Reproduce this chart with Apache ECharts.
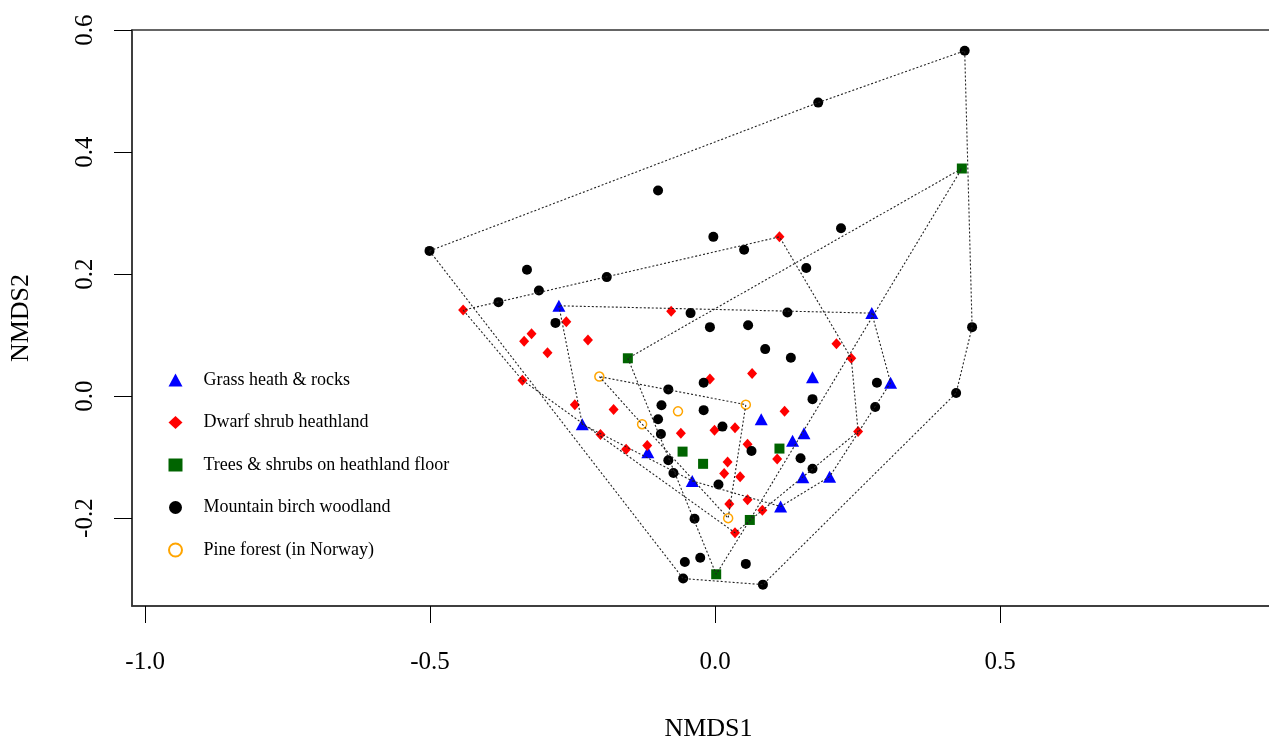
<!DOCTYPE html>
<html>
<head>
<meta charset="utf-8">
<script src="https://cdn.jsdelivr.net/npm/echarts@6/dist/echarts.min.js"></script>
<style>
  html, body { margin: 0; padding: 0; background: #fff; overflow: hidden; }
  #chart { width: 1269px; height: 740px; }
</style>
</head>
<body>
<div id="chart"></div>
<script>
// ---- Data (NMDS1, NMDS2) ----
const groupNames = ['Grass heath & rocks', 'Dwarf shrub heathland', 'Trees & shrubs on heathland floor', 'Mountain birch woodland', 'Pine forest (in Norway)'];

const grassHeath = [[-0.274,0.148],[0.275,0.136],[0.171,0.031],[0.308,0.022],[0.081,-0.038],[-0.233,-0.046],[0.156,-0.061],[0.136,-0.073],[-0.118,-0.092],[0.154,-0.133],[0.201,-0.132],[-0.040,-0.139],[0.115,-0.181]];

const dwarfShrub = [[0.113,0.261],[-0.442,0.141],[-0.077,0.139],[-0.261,0.122],[-0.322,0.102],[-0.335,0.090],[-0.294,0.071],[-0.223,0.092],[0.213,0.086],[0.239,0.062],[-0.338,0.026],[-0.009,0.028],[0.065,0.037],[0.122,-0.025],[-0.246,-0.014],[-0.178,-0.022],[-0.001,-0.056],[0.035,-0.052],[-0.060,-0.061],[0.251,-0.058],[-0.201,-0.063],[-0.156,-0.087],[-0.119,-0.081],[0.057,-0.079],[0.109,-0.103],[0.022,-0.108],[0.016,-0.127],[0.044,-0.132],[0.025,-0.177],[0.057,-0.170],[0.083,-0.187],[0.035,-0.224]];

const treesShrubs = [[0.433,0.373],[-0.153,0.062],[-0.057,-0.091],[0.113,-0.086],[-0.021,-0.111],[0.061,-0.203],[0.002,-0.292]];

const birchWood = [[0.438,0.566],[0.181,0.481],[-0.100,0.337],[-0.501,0.238],[-0.003,0.261],[0.051,0.240],[0.221,0.275],[0.160,0.210],[-0.330,0.207],[-0.190,0.195],[-0.309,0.173],[-0.380,0.154],[-0.043,0.136],[0.127,0.137],[-0.280,0.120],[-0.009,0.113],[0.058,0.116],[0.088,0.077],[0.133,0.063],[0.451,0.113],[0.423,0.005],[-0.020,0.022],[0.284,0.022],[-0.082,0.011],[0.171,-0.005],[0.281,-0.018],[-0.094,-0.015],[-0.020,-0.023],[-0.100,-0.038],[0.013,-0.050],[-0.095,-0.062],[0.064,-0.090],[0.150,-0.102],[0.171,-0.119],[-0.082,-0.105],[-0.073,-0.126],[0.006,-0.145],[-0.036,-0.201],[-0.053,-0.272],[-0.026,-0.265],[0.054,-0.275],[-0.056,-0.299],[0.084,-0.309]];

const pineForest = [[-0.203,0.032],[0.054,-0.014],[-0.065,-0.025],[-0.128,-0.046],[0.023,-0.200]];

const xTicks = [-1.0, -0.5, 0.0, 0.5];
const yTicks = [-0.2, 0.0, 0.2, 0.4, 0.6];

// ---- Convex hull (monotone chain), closed ----
function convexHull(points) {
  const p = points.slice().sort((a, b) => a[0] - b[0] || a[1] - b[1]);
  const cross = (o, a, b) => (a[0]-o[0])*(b[1]-o[1]) - (a[1]-o[1])*(b[0]-o[0]);
  const lower = [];
  for (const pt of p) { while (lower.length >= 2 && cross(lower[lower.length-2], lower[lower.length-1], pt) <= 0) lower.pop(); lower.push(pt); }
  const upper = [];
  for (let i = p.length - 1; i >= 0; i--) { const pt = p[i]; while (upper.length >= 2 && cross(upper[upper.length-2], upper[upper.length-1], pt) <= 0) upper.pop(); upper.push(pt); }
  upper.pop(); lower.pop();
  const h = lower.concat(upper);
  h.push(h[0]);
  return h;
}

const groups = [
  { name: groupNames[0], data: grassHeath, symbol: 'triangle', size: [13, 12], style: { color: '#0000FF', opacity: 1 } },
  { name: groupNames[1], data: dwarfShrub, symbol: 'diamond', size: [10, 11], style: { color: '#FF0000', opacity: 1 } },
  { name: groupNames[2], data: treesShrubs, symbol: 'rect', size: 10, style: { color: '#006400', opacity: 1 } },
  { name: groupNames[3], data: birchWood, symbol: 'circle', size: 10, style: { color: '#000000', opacity: 1 } },
  { name: groupNames[4], data: pineForest, symbol: 'circle', size: 9, style: { color: 'rgba(255,255,255,0)', borderColor: '#FFA500', borderWidth: 1.5, opacity: 1 } }
];

const series = [];
groups.forEach(g => {
  series.push({
    name: g.name, type: 'scatter', data: g.data, symbol: g.symbol, symbolSize: g.size,
    itemStyle: g.style, z: 2, silent: true
  });
});
groups.forEach(g => {
  series.push({
    name: g.name + ' hull', type: 'line', data: convexHull(g.data), showSymbol: false, symbol: 'none',
    lineStyle: { color: '#222', width: 1.1, type: [2, 2] }, z: 3, silent: true, animation: false
  });
});

const FONT = 'Liberation Serif';
const chart = echarts.init(document.getElementById('chart'), null, { renderer: 'canvas' });
chart.setOption({
  animation: false,
  backgroundColor: '#ffffff',
  grid: { left: 132, top: 30, width: 1153, height: 576, show: true, borderColor: '#333', borderWidth: 1.5, backgroundColor: 'transparent', containLabel: false, outerBoundsMode: 'none' },
  xAxis: {
    type: 'value', min: -1.023, max: 1.0,
    name: 'NMDS1', nameLocation: 'middle', nameGap: 110,
    nameTextStyle: { fontFamily: FONT, fontSize: 26, color: '#000' },
    axisLine: { show: true, onZero: false, lineStyle: { color: '#333', width: 1.5 } },
    axisTick: { show: true, length: 17, customValues: xTicks, lineStyle: { color: '#000', width: 1 } },
    axisLabel: { customValues: xTicks, margin: 44, fontFamily: FONT, fontSize: 25, color: '#000', formatter: v => Number(v).toFixed(1) },
    splitLine: { show: false }
  },
  yAxis: {
    type: 'value', min: -0.344, max: 0.6,
    name: 'NMDS2', nameLocation: 'middle', nameGap: 98, nameRotate: 90,
    nameTextStyle: { fontFamily: FONT, fontSize: 26, color: '#000' },
    axisLine: { show: true, onZero: false, lineStyle: { color: '#333', width: 1.5 } },
    axisTick: { show: true, length: 18, customValues: yTicks, lineStyle: { color: '#000', width: 1 } },
    axisLabel: { customValues: yTicks, rotate: 90, margin: 34, fontFamily: FONT, fontSize: 25, color: '#000', formatter: v => Number(v).toFixed(1) },
    splitLine: { show: false }
  },
  legend: {
    data: groupNames, orient: 'vertical', left: 163, top: 366,
    itemWidth: 14, itemHeight: 13, itemGap: 24.5,
    textStyle: { fontFamily: FONT, fontSize: 18, color: '#000', lineHeight: 13, padding: [0, 0, 0, 16] },
    selectedMode: false
  },
  series: series
});
</script>
</body>
</html>
